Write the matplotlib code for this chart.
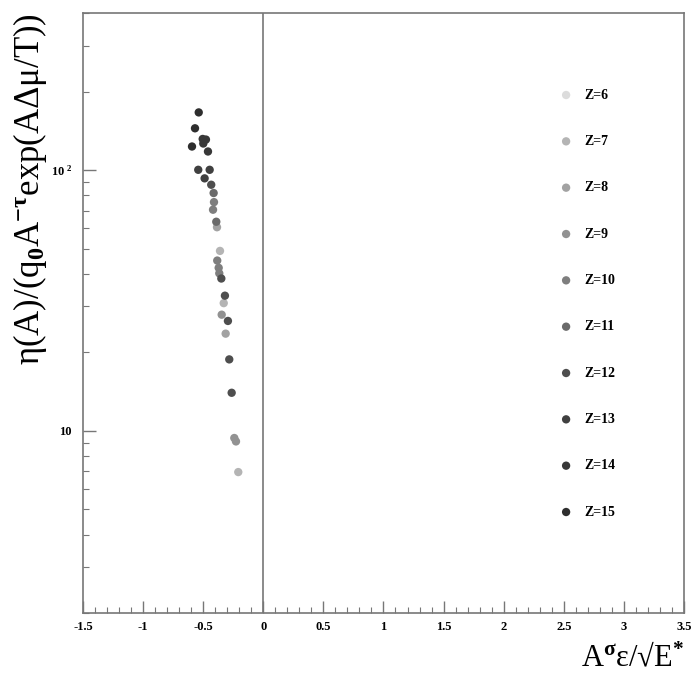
import numpy as np
import matplotlib
matplotlib.use('Agg')
import matplotlib.pyplot as plt
from matplotlib.ticker import MultipleLocator, LogLocator, FuncFormatter, NullFormatter

plt.rcParams['font.family'] = ['Liberation Serif', 'DejaVu Serif']
plt.rcParams['font.weight'] = 'bold'
plt.rcParams['mathtext.fontset'] = 'custom'
plt.rcParams['mathtext.rm'] = 'Liberation Serif:bold'
plt.rcParams['mathtext.it'] = 'Liberation Serif:bold'
plt.rcParams['mathtext.bf'] = 'Liberation Serif:bold'

# charges shown in the legend and their grey shades
z_values = [6, 7, 8, 9, 10, 11, 12, 13, 14, 15]
z_colors = ['#dcdcdc', '#b4b4b4', '#a2a2a2', '#929292', '#7e7e7e',
            '#6a6a6a', '#4e4e4e', '#404040', '#383838', '#2e2e2e']

# scaled variable (x) and scaled yield (y) per charge
x_by_z = {
    6: [],
    7: [-0.360, -0.329, -0.208],
    8: [-0.385, -0.313],
    9: [-0.346, -0.241, -0.227],
    10: [-0.410, -0.418, -0.383, -0.371, -0.366],
    11: [-0.413, -0.391],
    12: [-0.433, -0.349, -0.319, -0.294, -0.283, -0.263],
    13: [-0.541, -0.446, -0.488],
    14: [-0.504, -0.477, -0.499, -0.460],
    15: [-0.537, -0.568, -0.593],
}
y_by_z = {
    6: [],
    7: [49.0, 30.9, 6.95],
    8: [60.4, 23.6],
    9: [27.9, 9.39, 9.11],
    10: [75.4, 70.5, 45.0, 42.2, 40.2],
    11: [81.7, 63.4],
    12: [87.9, 38.4, 33.0, 26.4, 18.8, 14.0],
    13: [100.3, 100.3, 93.0],
    14: [131.7, 131.0, 126.5, 117.9],
    15: [166.5, 144.7, 123.2],
}

fig = plt.figure(figsize=(6.95, 6.82), dpi=100)
ax = fig.add_axes([0.1194, 0.101, 0.8647, 0.8797])

for z, c in zip(z_values, z_colors):
    ax.scatter(x_by_z[z], y_by_z[z], s=36, color=c, edgecolors='none',
               label=f'Z={z}', zorder=3)

ax.axvline(0, color='#777777', lw=1.2, zorder=1)

ax.set_yscale('log')
ax.set_xlim(-1.5, 3.5)
ax.set_ylim(2, 400)

ax.xaxis.set_major_locator(MultipleLocator(0.5))
ax.xaxis.set_minor_locator(MultipleLocator(0.1))
ax.xaxis.set_major_formatter(FuncFormatter(lambda v, p: f'{v:g}'))
ax.yaxis.set_major_locator(LogLocator(base=10, numticks=10))
ax.yaxis.set_minor_locator(LogLocator(base=10, subs=np.arange(2, 10), numticks=10))
ax.yaxis.set_minor_formatter(NullFormatter())


def ylab(v, p):
    if abs(v - 100) < 1e-6:
        return r'10$^{\ 2}$'
    if abs(v - 10) < 1e-6:
        return '10'
    return ''


ax.yaxis.set_major_formatter(FuncFormatter(ylab))

ax.tick_params(which='both', direction='in', top=False, right=False,
               color='#777777', labelsize=9)
ax.tick_params(which='major', length=9, width=1)
ax.tick_params(which='minor', length=4.5, width=0.8)
ax.tick_params(axis='x', pad=6)
ax.tick_params(axis='y', pad=8)

for sp in ax.spines.values():
    sp.set_color('#777777')
    sp.set_linewidth(1.2)

ax.set_ylabel('η(A)/(q$_0$A$^{-τ}$exp(AΔμ/T))', fontsize=25, loc='top',
              labelpad=1)
ax.set_xlabel('A$^{σ}$ε/√E$^{*}$', fontsize=22, loc='right', labelpad=8)

ax.legend(loc='upper left', bbox_to_anchor=(0.76, 0.895), frameon=False,
          fontsize=10, labelspacing=2.4, handletextpad=0.3,
          scatterpoints=1, markerscale=1.0)

fig.savefig('out.png', dpi=100)
